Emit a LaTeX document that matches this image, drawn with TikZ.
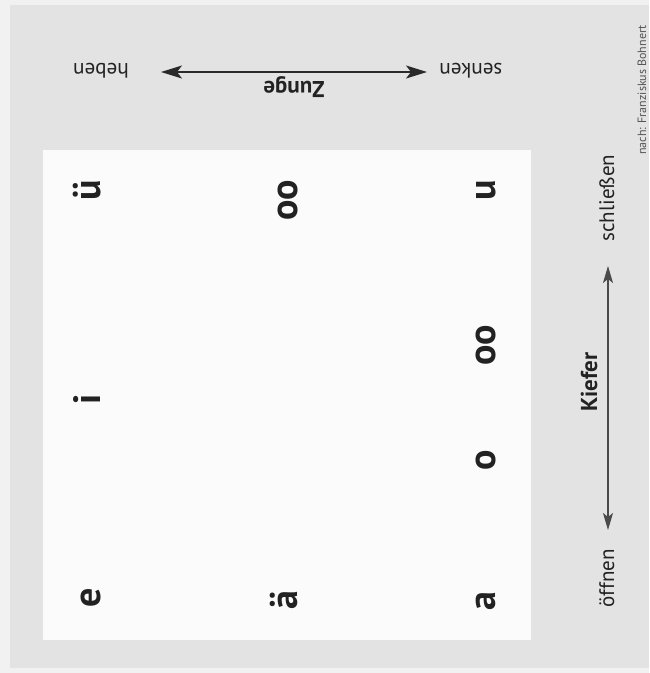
\documentclass[tikz,border=0pt]{standalone}
\usepackage{fontspec}
\setmainfont{PT Sans}
\usetikzlibrary{arrows.meta}
\definecolor{bggray}{HTML}{E3E3E3}
\definecolor{lightstrip}{HTML}{F1F1F1}
\definecolor{panel}{HTML}{FBFBFB}
\definecolor{ink}{HTML}{222222}
\definecolor{arrowink}{HTML}{2A2A2A}
\definecolor{kieferink}{HTML}{4A4A4A}
\definecolor{creditink}{HTML}{555555}
\begin{document}
\begin{tikzpicture}[x=1pt,y=-1pt,
  vowel/.style={font=\fontsize{38}{38}\selectfont\bfseries, text=ink, rotate=90, anchor=base, inner sep=0pt},
  lab/.style={font=\fontsize{21}{21}\selectfont, text=ink, anchor=base, inner sep=0pt},
  axisname/.style={font=\fontsize{23}{23}\selectfont\bfseries, text=ink, anchor=base, inner sep=0pt},
  credit/.style={font=\fontsize{12}{12}\selectfont, text=creditink, anchor=base, inner sep=0pt, rotate=90},
  axisarrow/.style={line width=1.2pt, {Stealth[length=21pt,width=13pt,inset=5pt]}-{Stealth[length=21pt,width=13pt,inset=5pt]}}
]
\useasboundingbox (0,0) rectangle (649,673);
% background
\fill[bggray] (0,0) rectangle (649,673);
\fill[lightstrip] (0,0) rectangle (10,673);
\fill[lightstrip] (0,0) rectangle (649,5);
\fill[lightstrip] (0,668) rectangle (649,673);
% white panel
\fill[panel] (43,150) rectangle (531,640);

% vowels, row 1
\node[vowel] (e)  at (100,598) {e};
\node[vowel] (i)  at (100,399) {i};
\node[vowel] (ue) at (100,190) {ü};
% row 2
\node[vowel] (ae) at (297,600) {ä};
\node[vowel] (oo1) at (297,200) {oo};
% row 3
\node[vowel] (a)  at (495,601) {a};
\node[vowel] (o)  at (495,460) {o};
\node[vowel] (oo2) at (495,345) {oo};
\node[vowel] (u)  at (495,190) {u};

% Zunge axis (upside down)
\node[lab, rotate=180] (heben) at (101,63) {heben};
\node[lab, rotate=180] (senken) at (471,63) {senken};
\node[axisname, rotate=180] (zunge) at (294,81) {Zunge};
\coordinate (zl) at (161,72);
\coordinate (zr) at (427,72);
\draw[axisarrow, draw=arrowink, fill=arrowink] (zl) -- (zr);

% Kiefer axis
\node[axisname, rotate=90] (kiefer) at (597,382) {Kiefer};
\node[lab, rotate=90] (oeffnen) at (614,578) {öffnen};
\node[lab, rotate=90] (schliessen) at (614,198) {schließen};
\coordinate (kt) at (608,266);
\coordinate (kb) at (608,530);
\draw[line width=1.1pt, draw=kieferink, fill=kieferink, {Stealth[length=17pt,width=10pt,inset=4pt]}-{Stealth[length=17pt,width=10pt,inset=4pt]}] (kb) -- (kt);

% credit at the right edge
\node[credit] (credit) at (646,90) {nach: Franziskus Bohnert};
\end{tikzpicture}
\end{document}
